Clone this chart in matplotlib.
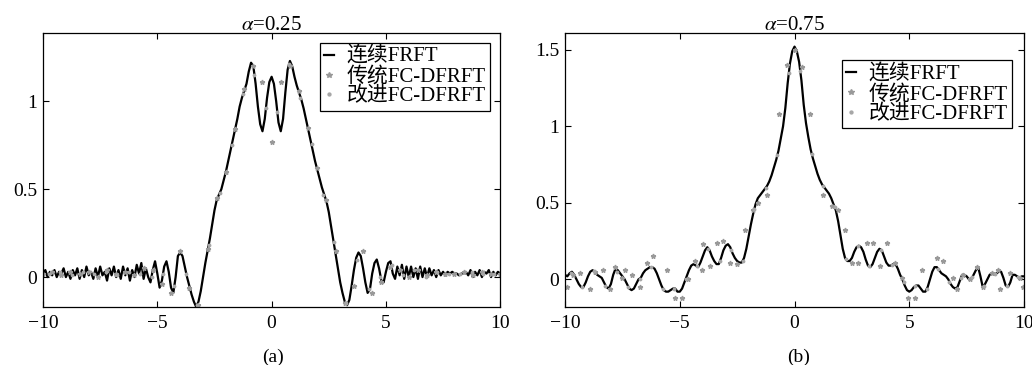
import numpy as np
import matplotlib
matplotlib.use("Agg")
import matplotlib.pyplot as plt

plt.rcParams['font.family'] = ['Liberation Serif', 'Noto Sans CJK SC']
plt.rcParams['mathtext.fontset'] = 'stix'
plt.rcParams['font.size'] = 14

# alpha = 0.25, continuous FRFT, sampled every 0.1 from -10 to 10
y_cont_a = [
    0.02, 0.04, 0.00, 0.03, 0.01, 0.04, 0.00, 0.03, 0.02, 0.05,
    0.00, 0.03, -0.01, 0.04, 0.01, 0.05, -0.01, 0.04, 0.00, 0.06,
    0.01, 0.03, -0.01, 0.05, 0.00, 0.06, 0.01, 0.03, -0.02, 0.05,
    0.01, 0.06, 0.00, 0.04, -0.01, 0.06, 0.01, 0.05, -0.02, 0.04,
    0.00, 0.07, 0.02, 0.08, -0.01, 0.05, 0.00, -0.03, 0.04, 0.09,
    0.02, -0.06, -0.02, 0.06, 0.09, 0.03, -0.06, -0.09, 0.00, 0.12,
    0.14, 0.12, 0.06, 0.00, -0.05, -0.10, -0.14, -0.17, -0.14, -0.08,
    0.00, 0.08, 0.15, 0.22, 0.30, 0.38, 0.44, 0.47, 0.50, 0.55,
    0.60, 0.66, 0.72, 0.78, 0.84, 0.90, 0.97, 1.02, 1.06, 1.10,
    1.17, 1.22, 1.20, 1.10, 0.97, 0.87, 0.83, 0.90, 1.02, 1.11,
    1.14, 1.10, 1.00, 0.88, 0.83, 0.90, 1.05, 1.18, 1.23, 1.20,
    1.14, 1.09, 1.05, 1.01, 0.96, 0.90, 0.84, 0.78, 0.72, 0.66,
    0.61, 0.56, 0.51, 0.47, 0.43, 0.37, 0.29, 0.21, 0.13, 0.05,
    -0.03, -0.09, -0.14, -0.16, -0.13, -0.05, 0.04, 0.11, 0.14, 0.12,
    0.05, -0.03, -0.09, -0.07, 0.02, 0.08, 0.10, 0.05, -0.02, -0.03,
    0.03, 0.08, 0.09, 0.02, -0.01, 0.06, 0.01, 0.07, -0.01, 0.06,
    0.00, 0.06, 0.00, 0.05, -0.01, 0.06, 0.00, 0.05, 0.00, 0.05,
    0.01, 0.04, 0.00, 0.04, 0.01, 0.03, 0.01, 0.03, 0.02, 0.03,
    0.02, 0.02, 0.01, 0.02, 0.02, 0.03, 0.01, 0.04, 0.00, 0.03,
    0.01, 0.04, 0.00, 0.03, 0.02, 0.04, 0.00, 0.03, 0.01, 0.03,
    0.02,
]
# traditional FC-DFRFT, every 0.4
y_old_a = [
    0.02, 0.03, 0.01, 0.03, 0.02, 0.03, 0.00, 0.04, 0.02, 0.03,
    0.01, 0.05, 0.04, -0.04, -0.09, 0.15, -0.06, -0.16, 0.16, 0.45,
    0.60, 0.84, 1.07, 1.20, 1.11, 0.77, 1.11, 1.20, 1.06, 0.85,
    0.62, 0.44, 0.15, -0.15, -0.05, 0.15, -0.09, -0.03, 0.06, 0.04,
    0.00, 0.04, 0.01, 0.03, 0.02, 0.02, 0.03, 0.01, 0.03, 0.02,
    0.02,
]
# improved FC-DFRFT, every 0.5 from -9.75
y_new_a = [
    0.02, 0.03, 0.01, 0.03, 0.02, 0.03, 0.01, 0.03, 0.02, 0.00,
    0.02, -0.05, 0.02, -0.16, 0.18, 0.48, 0.75, 1.04, 1.15, 0.96,
    0.94, 1.21, 1.02, 0.76, 0.47, 0.20, -0.15, 0.10, -0.07, 0.00,
    0.07, 0.01, 0.04, 0.00, 0.03, 0.02, 0.02, 0.03, 0.02, 0.02,
]

# alpha = 0.75
y_cont_b = [
    0.03, 0.02, 0.04, 0.05, 0.03, 0.00, -0.03, -0.05, -0.05, -0.02,
    0.02, 0.05, 0.06, 0.05, 0.03, 0.02, 0.01, -0.02, -0.05, -0.06,
    -0.03, 0.03, 0.07, 0.06, 0.04, 0.02, 0.00, -0.03, -0.06, -0.07,
    -0.06, -0.03, 0.00, 0.01, 0.04, 0.06, 0.07, 0.08, 0.08, 0.07,
    0.04, 0.00, -0.04, -0.07, -0.08, -0.08, -0.07, -0.06, -0.06, -0.08,
    -0.08, -0.06, -0.02, 0.02, 0.06, 0.09, 0.10, 0.09, 0.08, 0.11,
    0.15, 0.19, 0.21, 0.19, 0.15, 0.12, 0.10, 0.10, 0.14, 0.19,
    0.22, 0.23, 0.21, 0.17, 0.14, 0.12, 0.11, 0.11, 0.14, 0.20,
    0.28, 0.36, 0.43, 0.49, 0.53, 0.55, 0.57, 0.59, 0.61, 0.64,
    0.68, 0.73, 0.78, 0.84, 0.92, 1.00, 1.12, 1.28, 1.41, 1.49,
    1.52, 1.49, 1.42, 1.30, 1.14, 1.02, 0.93, 0.85, 0.79, 0.74,
    0.69, 0.65, 0.62, 0.60, 0.58, 0.56, 0.53, 0.49, 0.45, 0.38,
    0.29, 0.20, 0.14, 0.12, 0.12, 0.14, 0.18, 0.21, 0.22, 0.21,
    0.18, 0.13, 0.09, 0.08, 0.10, 0.14, 0.18, 0.20, 0.19, 0.15,
    0.11, 0.09, 0.09, 0.10, 0.10, 0.07, 0.03, 0.00, -0.04, -0.07,
    -0.08, -0.07, -0.05, -0.04, -0.04, -0.06, -0.08, -0.08, -0.05, 0.00,
    0.05, 0.08, 0.08, 0.06, 0.04, 0.03, 0.02, 0.00, -0.03, -0.05,
    -0.06, -0.05, -0.01, 0.03, 0.03, 0.02, 0.00, 0.00, 0.03, 0.06,
    0.08, 0.02, -0.05, -0.03, 0.00, 0.03, 0.04, 0.03, 0.04, 0.05,
    0.05, 0.01, -0.04, -0.05, -0.02, 0.03, 0.03, 0.02, 0.01, 0.02,
    0.02,
]
x_old_b = [
    -9.93, -9.65, -9.35, -8.91, -8.69, -8.34, -8.04, -7.82, -7.52, -7.39,
    -7.08, -6.73, -6.43, -6.17, -5.56, -5.2, -4.9, -4.64, -4.34, -4.03,
    -3.99, -3.68, -3.38, -3.12, -2.81, -2.51, -2.16, -1.81, -1.59, -1.2,
    -0.68, -0.33, 0.0, 0.33, 0.67, 1.24, 1.63, 1.9, 2.2, 2.5,
    2.77, 3.16, 3.42, 3.72, 4.03, 4.38, 4.68, 4.95, 5.25, 5.56,
    6.2, 6.47, 6.9, 7.08, 7.34, 7.65, 7.95, 8.21, 8.6, 8.87,
    8.95, 9.39, 9.83, 9.96,
]
y_old_b = [
    -0.05, 0.03, 0.04, -0.06, 0.05, 0.06, -0.06, 0.08, 0.01, 0.06,
    0.03, -0.05, 0.11, 0.15, 0.06, -0.12, -0.12, 0.00, 0.12, 0.06,
    0.23, 0.09, 0.24, 0.25, 0.11, 0.10, 0.32, 0.45, 0.50, 0.55,
    1.08, 1.40, 1.50, 1.39, 1.08, 0.55, 0.48, 0.45, 0.32, 0.11,
    0.11, 0.24, 0.24, 0.09, 0.24, 0.11, 0.01, -0.12, -0.12, 0.06,
    0.14, 0.12, 0.01, -0.06, 0.03, 0.00, 0.08, -0.05, 0.04, 0.06,
    -0.06, 0.04, 0.01, -0.05,
]
y_new_b = [
    0.045, -0.05, 0.055, -0.04, 0.05, -0.05, 0.00, 0.08, -0.06, -0.06,
    0.00, 0.085, 0.20, 0.12, 0.19, 0.12, 0.46, 0.60, 0.81, 1.35,
    1.36, 0.82, 0.61, 0.47, 0.13, 0.22, 0.085, 0.195, 0.095, -0.02,
    -0.045, -0.065, 0.07, -0.015, 0.01, 0.015, -0.04, 0.035, -0.045, 0.015,
]

labels = ['连续FRFT', '传统FC-DFRFT', '改进FC-DFRFT']
titles = [r'$\alpha$=0.25', r'$\alpha$=0.75']

fig = plt.figure(figsize=(10.32, 3.65), dpi=100)
ax1 = fig.add_axes([0.0417, 0.159, 0.443, 0.751])
ax2 = fig.add_axes([0.5475, 0.159, 0.4448, 0.751])

x_new = np.linspace(-9.75, 9.75, 40)

ax1.plot(np.linspace(-10, 10, len(y_cont_a)), y_cont_a, color='k', lw=1.6, label=labels[0])
ax1.plot(np.linspace(-10, 10, len(y_old_a)), y_old_a, ls='none', marker='*', ms=3.5, color='0.6', label=labels[1])
ax1.plot(x_new, y_new_a, ls='none', marker='.', ms=3.5, color='0.65', label=labels[2])
ax1.set_ylim(-0.17, 1.39)
ax1.set_yticks([0, 0.5, 1])
ax1.set_yticklabels(['0', '0.5', '1'])

ax2.plot(np.linspace(-10, 10, len(y_cont_b)), y_cont_b, color='k', lw=1.6, label=labels[0])
ax2.plot(x_old_b, y_old_b, ls='none', marker='*', ms=3.5, color='0.6', label=labels[1])
ax2.plot(x_new, y_new_b, ls='none', marker='.', ms=3.5, color='0.65', label=labels[2])
ax2.set_ylim(-0.18, 1.61)
ax2.set_yticks([0, 0.5, 1, 1.5])
ax2.set_yticklabels(['0', '0.5', '1', '1.5'])

for ax, t, anchor in [(ax1, titles[0], (0.978, 0.964)), (ax2, titles[1], (0.974, 0.90))]:
    ax.set_xlim(-10, 10)
    ax.set_xticks([-10, -5, 0, 5, 10])
    ax.tick_params(direction='in', top=True, right=True, length=4, labelsize=14)
    ax.tick_params(axis='x', pad=6)
    ax.tick_params(axis='y', pad=4)
    ax.set_title(t, fontsize=15, pad=2)
    for s in ax.spines.values():
        s.set_linewidth(0.9)
    leg = ax.legend(loc='upper right', bbox_to_anchor=anchor, borderaxespad=0,
                    fancybox=False, edgecolor='k', framealpha=1, fontsize=15,
                    handlelength=0.5, handletextpad=0.6, labelspacing=0.0,
                    borderpad=0.2, markerscale=1.2)
    leg.get_frame().set_linewidth(0.9)

fig.text(273 / 1032, 1 - 357 / 365, '(a)', ha='center', va='center', fontsize=14)
fig.text(799 / 1032, 1 - 357 / 365, '(b)', ha='center', va='center', fontsize=14)

fig.savefig('out.png', dpi=100)
